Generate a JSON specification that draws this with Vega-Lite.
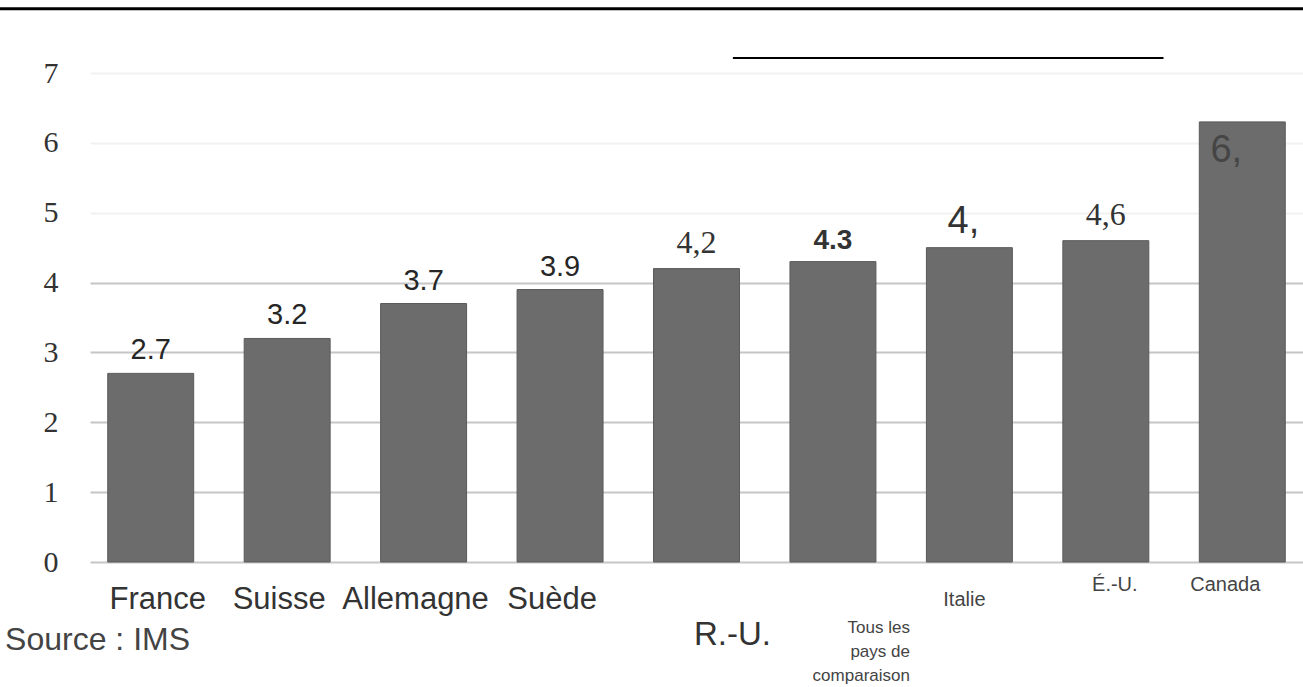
{
  "$schema": "https://vega.github.io/schema/vega-lite/v6.json",
  "width": 1213,
  "height": 489,
  "autosize": {"type": "none"},
  "padding": {"left": 90, "top": 73, "right": 0, "bottom": 125},
  "background": "white",
  "config": {"view": {"stroke": null}},
  "datasets": {
    "ventes": [
      {"pays": "France", "valeur": 2.7, "etiquette": "2.7"},
      {"pays": "Suisse", "valeur": 3.2, "etiquette": "3.2"},
      {"pays": "Allemagne", "valeur": 3.7, "etiquette": "3.7"},
      {"pays": "Suède", "valeur": 3.9, "etiquette": "3.9"},
      {"pays": "R.-U.", "valeur": 4.2, "etiquette": "4,2"},
      {"pays": "Tous les pays de comparaison", "valeur": 4.3, "etiquette": "4.3"},
      {"pays": "Italie", "valeur": 4.5, "etiquette": "4,"},
      {"pays": "É.-U.", "valeur": 4.6, "etiquette": "4,6"},
      {"pays": "Canada", "valeur": 6.3, "etiquette": "6,"}
    ]
  },
  "layer": [
    {
      "data": {"name": "ventes"},
      "encoding": {
        "x": {
          "field": "pays",
          "type": "nominal",
          "sort": null,
          "scale": {"paddingInner": 0.37, "paddingOuter": 0.13},
          "axis": {
            "title": null,
            "domain": false,
            "ticks": false,
            "tickSize": 0,
            "grid": false,
            "labelAngle": 0,
            "labelOverlap": false,
            "labelBound": false,
            "labelFlush": false,
            "labelLimit": 400,
            "labelBaseline": "alphabetic",
            "labelFont": "Liberation Sans",
            "labelLineHeight": 24,
            "labelExpr": "datum.value == 'Tous les pays de comparaison' ? ['Tous les', 'pays de', 'comparaison'] : datum.label",
            "labelColor": {"condition": {"test": "indexof(['France','Suisse','Allemagne','Suède','R.-U.'], datum.value) >= 0", "value": "#333333"}, "value": "#444444"},
            "labelFontSize": {"condition": [
              {"test": "indexof(['France','Suisse','Allemagne','Suède'], datum.value) >= 0", "value": 31},
              {"test": "datum.value == 'R.-U.'", "value": 33},
              {"test": "datum.value == 'Tous les pays de comparaison'", "value": 17}
            ], "value": 20},
            "labelAlign": {"condition": {"test": "datum.value == 'Tous les pays de comparaison'", "value": "right"}, "value": "center"},
            "labelPadding": {"condition": [
              {"test": "indexof(['France','Suisse','Allemagne','Suède'], datum.value) >= 0", "value": 46},
              {"test": "datum.value == 'R.-U.'", "value": 82},
              {"test": "datum.value == 'Tous les pays de comparaison'", "value": 70},
              {"test": "datum.value == 'Italie'", "value": 43}
            ], "value": 28},
            "labelOffset": {"condition": [
              {"test": "datum.value == 'France'", "value": 7},
              {"test": "indexof(['Suisse','Allemagne','Suède'], datum.value) >= 0", "value": -8},
              {"test": "datum.value == 'R.-U.'", "value": 36},
              {"test": "datum.value == 'Tous les pays de comparaison'", "value": 77},
              {"test": "datum.value == 'Italie'", "value": -5},
              {"test": "datum.value == 'É.-U.'", "value": 9},
              {"test": "datum.value == 'Canada'", "value": -17}
            ], "value": 0}
          }
        },
        "y": {
          "field": "valeur",
          "type": "quantitative",
          "scale": {"domain": [0, 7], "nice": false},
          "axis": {
            "title": null,
            "domain": false,
            "ticks": false,
            "tickSize": 0,
            "values": [0, 1, 2, 3, 4, 5, 6, 7],
            "format": "d",
            "labelFont": "Liberation Serif",
            "labelFontSize": 30,
            "labelColor": "#333333",
            "labelPadding": 32,
            "grid": true,
            "gridWidth": 2,
            "gridColor": {"condition": {"test": "datum.value >= 5", "value": "#f2f2f2"}, "value": "#c6c6c6"}
          }
        }
      },
      "layer": [
        {"mark": {"type": "bar", "color": "#6c6c6c", "stroke": "#5a5a5a", "strokeWidth": 1}},
        {
          "transform": [{"filter": {"field": "pays", "oneOf": ["France", "Suisse", "Allemagne", "Suède"]}}],
          "mark": {"type": "text", "font": "Liberation Sans", "fontSize": 29, "color": "#262626", "baseline": "alphabetic", "dy": -14},
          "encoding": {"text": {"field": "etiquette"}}
        },
        {
          "transform": [{"filter": {"field": "pays", "oneOf": ["Tous les pays de comparaison"]}}],
          "mark": {"type": "text", "font": "Liberation Sans", "fontSize": 28, "fontWeight": "bold", "color": "#333333", "baseline": "alphabetic", "dy": -13},
          "encoding": {"text": {"field": "etiquette"}}
        },
        {
          "transform": [{"filter": {"field": "pays", "oneOf": ["R.-U.", "É.-U."]}}],
          "mark": {"type": "text", "font": "Liberation Serif", "fontSize": 32, "color": "#333333", "baseline": "alphabetic", "dy": -16},
          "encoding": {"text": {"field": "etiquette"}}
        },
        {
          "transform": [{"filter": {"field": "pays", "oneOf": ["Italie"]}}],
          "mark": {"type": "text", "font": "Liberation Sans", "fontSize": 38, "color": "#333333", "baseline": "alphabetic", "dy": -15, "dx": -6},
          "encoding": {"text": {"field": "etiquette"}}
        },
        {
          "transform": [{"filter": {"field": "pays", "oneOf": ["Canada"]}}],
          "mark": {"type": "text", "font": "Liberation Sans", "fontSize": 38, "color": "#454545", "baseline": "alphabetic", "dy": 40, "dx": -16},
          "encoding": {"text": {"field": "etiquette"}}
        }
      ]
    },
    {
      "data": {"values": [{}]},
      "mark": {"type": "rule", "color": "#000000", "strokeWidth": 3},
      "encoding": {
        "x": {"datum": -0.0742, "type": "quantitative", "scale": {"domain": [0, 1]}, "axis": null},
        "x2": {"datum": 1},
        "y": {"datum": 7.92, "type": "quantitative", "title": null}
      }
    },
    {
      "data": {"values": [{}]},
      "mark": {"type": "rule", "color": "#000000", "strokeWidth": 2},
      "encoding": {
        "x": {"datum": 0.530, "type": "quantitative", "scale": {"domain": [0, 1]}, "axis": null},
        "x2": {"datum": 0.885},
        "y": {"datum": 7.215, "type": "quantitative", "title": null}
      }
    },
    {
      "data": {"values": [{"texte": "Source : IMS"}]},
      "mark": {"type": "text", "font": "Liberation Sans", "fontSize": 32, "color": "#444444", "align": "left", "baseline": "alphabetic"},
      "encoding": {
        "x": {"datum": -0.070, "type": "quantitative", "scale": {"domain": [0, 1]}, "axis": null},
        "y": {"datum": -1.26, "type": "quantitative", "title": null},
        "text": {"field": "texte"}
      }
    }
  ],
  "resolve": {"scale": {"x": "independent"}}
}
